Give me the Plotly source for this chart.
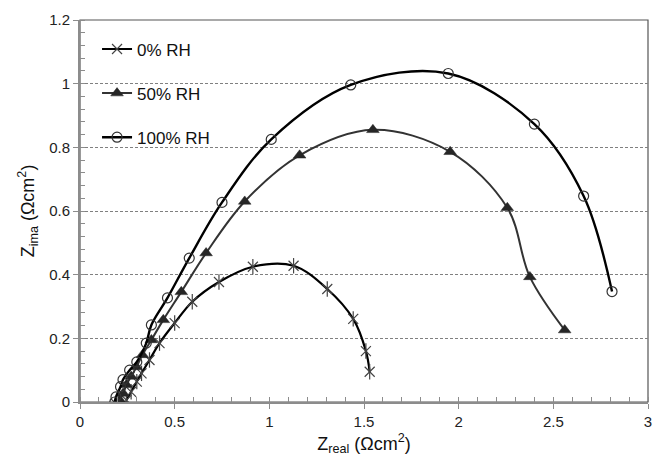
import plotly.graph_objects as go

# Nyquist data (Z_real, Z_ima) in Ohm cm^2
z_real_0 = [0.245, 0.27, 0.30, 0.325, 0.367, 0.42, 0.50, 0.593, 0.734, 0.913,
            1.128, 1.306, 1.443, 1.51, 1.53]
z_ima_0 = [0.006, 0.032, 0.064, 0.09, 0.132, 0.185, 0.248, 0.315, 0.377, 0.425,
           0.428, 0.355, 0.261, 0.16, 0.095]

z_real_50 = [0.21, 0.228, 0.245, 0.27, 0.298, 0.33, 0.377, 0.44, 0.535, 0.666,
             0.87, 1.16, 1.547, 1.955, 2.257, 2.376, 2.56]
z_ima_50 = [0.006, 0.027, 0.054, 0.08, 0.11, 0.148, 0.195, 0.258, 0.346, 0.468,
            0.63, 0.775, 0.855, 0.786, 0.61, 0.393, 0.226]

z_real_100 = [0.184, 0.19, 0.214, 0.227, 0.262, 0.30, 0.35, 0.377, 0.462, 0.577,
              0.75, 1.01, 1.43, 1.945, 2.40, 2.66, 2.81]
z_ima_100 = [0.0, 0.016, 0.048, 0.07, 0.1, 0.126, 0.185, 0.242, 0.327, 0.452,
             0.627, 0.825, 0.996, 1.032, 0.873, 0.647, 0.347]

labels = ["0% RH", "50% RH", "100% RH"]
x_ticks = [0, 0.5, 1, 1.5, 2, 2.5, 3]
x_tick_text = ["0", "0.5", "1", "1.5", "2", "2.5", "3"]
y_ticks = [0, 0.2, 0.4, 0.6, 0.8, 1, 1.2]
y_tick_text = ["0", "0.2", "0.4", "0.6", "0.8", "1", "1.2"]

FONT = "Liberation Sans, Arial, sans-serif"
STAR = "#444444"

fig = go.Figure()

# 0% RH: asterisk markers built from an x and a vertical bar
fig.add_trace(go.Scatter(
    x=z_real_0, y=z_ima_0, name=labels[0], mode="lines+markers",
    line=dict(color="#000000", width=2.2, shape="spline", smoothing=1.0),
    marker=dict(symbol="x-thin-open", size=10, color=STAR,
                line=dict(color=STAR, width=1.2)),
    legendgroup="a",
))
fig.add_trace(go.Scatter(
    x=z_real_0, y=z_ima_0, mode="markers", showlegend=False, hoverinfo="skip",
    marker=dict(symbol="line-ns-open", size=11, color=STAR,
                line=dict(color=STAR, width=1.2)),
))

fig.add_trace(go.Scatter(
    x=z_real_50, y=z_ima_50, name=labels[1], mode="lines+markers",
    line=dict(color="#333333", width=2, shape="spline", smoothing=1.0),
    marker=dict(symbol="triangle-up", size=11, color="#262626",
                line=dict(color="#262626", width=0.5)),
    legendgroup="b",
))

fig.add_trace(go.Scatter(
    x=z_real_100, y=z_ima_100, name=labels[2], mode="lines+markers",
    line=dict(color="#000000", width=2.4, shape="spline", smoothing=1.0),
    marker=dict(symbol="circle-open", size=10, color="#333333",
                line=dict(color="#333333", width=1.2)),
    legendgroup="c",
))

# plot-area frame (top and right edges)
fig.add_shape(type="rect", xref="paper", yref="paper", x0=0, y0=0, x1=1, y1=1,
              line=dict(color="#555555", width=1.2), layer="below")

fig.update_layout(
    width=657, height=463,
    margin=dict(l=80, r=5, t=20, b=61),
    paper_bgcolor="white", plot_bgcolor="white",
    font=dict(family=FONT, size=14, color="#222222"),
    showlegend=True,
    legend=dict(x=0.03, y=0.97, xanchor="left", yanchor="top",
                bgcolor="rgba(0,0,0,0)", font=dict(size=17, color="#111111"),
                tracegroupgap=19, itemwidth=30),
    xaxis=dict(
        range=[0, 3], tickvals=x_ticks, ticktext=x_tick_text,
        showgrid=False, zeroline=False,
        showline=True, linecolor="#8c8c8c", linewidth=2,
        ticks="outside", ticklen=5, tickcolor="#8c8c8c", tickwidth=1.2,
        minor=dict(dtick=0.1, ticks="inside", ticklen=5, tickcolor="#8c8c8c",
                   tickwidth=1, showgrid=False),
        tickfont=dict(size=15, color="#222222"),
        title=dict(text="Z<sub>real</sub> (Ωcm<sup>2</sup>)",
                   font=dict(size=18, color="#111111"), standoff=8),
    ),
    yaxis=dict(
        range=[0, 1.2], tickvals=y_ticks, ticktext=y_tick_text,
        showgrid=True, gridcolor="#808080", griddash="3px,2px", gridwidth=1,
        zeroline=False,
        showline=True, linecolor="#8c8c8c", linewidth=2,
        ticks="outside", ticklen=5, tickcolor="#8c8c8c", tickwidth=1.2,
        minor=dict(dtick=0.04, ticks="inside", ticklen=5, tickcolor="#8c8c8c",
                   tickwidth=1, showgrid=False),
        tickfont=dict(size=15, color="#222222"),
        title=dict(text="Z<sub>ima</sub> (Ωcm<sup>2</sup>)",
                   font=dict(size=18, color="#111111"), standoff=10),
    ),
)

fig.write_html("out.html")
